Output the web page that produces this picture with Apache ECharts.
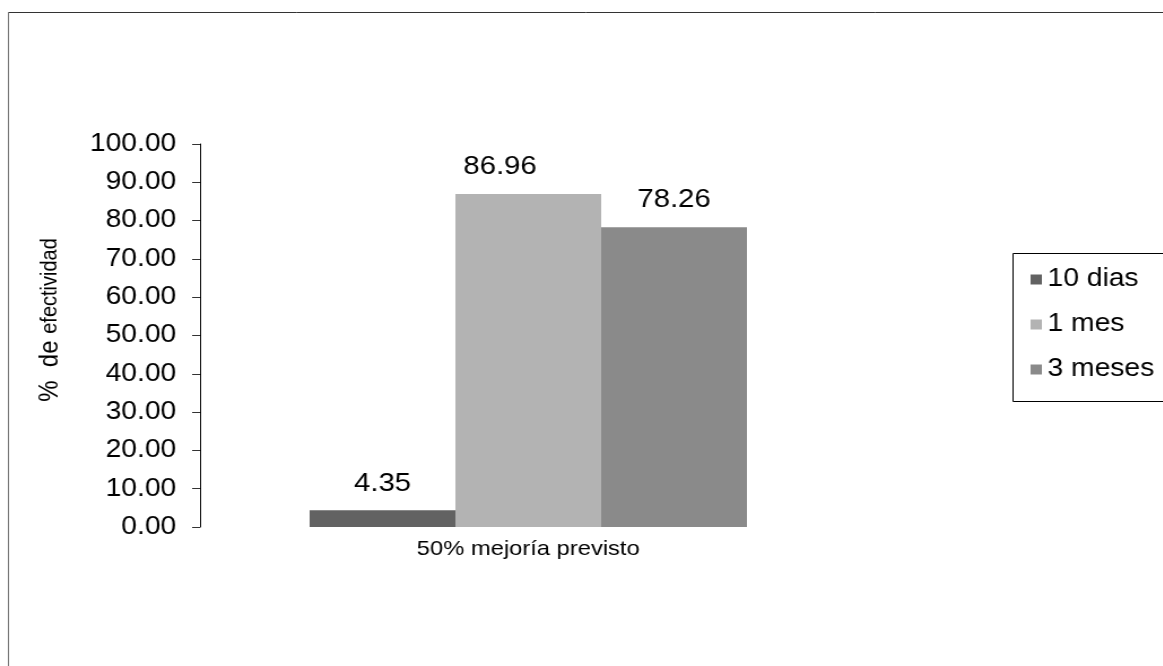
<!DOCTYPE html>
<html>
<head>
<meta charset="utf-8">
<title>Efectividad</title>
<script src="https://cdn.jsdelivr.net/npm/echarts@6/dist/echarts.min.js"></script>
<style>
  html, body { margin: 0; padding: 0; background: #fff; overflow: hidden; }
  /* The chart is laid out on a narrower canvas and widened horizontally,
     which gives the broad Arial lettering of the original office chart. */
  #chart { width: 1030px; height: 666px; transform: scaleX(1.13); transform-origin: 0 0; }
</style>
</head>
<body>
<div id="chart"></div>
<script>
// Category and series data
const categories = ['50% mejoría previsto'];
const seriesNames = ['10 dias', '1 mes', '3 meses'];
const values10dias = [4.35];
const values1mes = [86.96];
const values3meses = [78.26];
const seriesColors = ['#626262', '#b3b3b3', '#8a8a8a'];
const yTicks = { min: 0, max: 100, interval: 10 };

const FONT = '"Liberation Sans", Arial, sans-serif';
const chart = echarts.init(document.getElementById('chart'), null, { renderer: 'canvas' });

const valueSets = [values10dias, values1mes, values3meses];
// the "1 mes" value label sits a little left of its bar
const labelOffsets = [[0, 0], [-25, 0], [0, 0]];

const series = seriesNames.map((name, i) => ({
  name,
  type: 'bar',
  data: valueSets[i],
  barWidth: 129,
  barGap: '0%',
  itemStyle: { color: seriesColors[i] },
  label: {
    show: true,
    position: 'top',
    distance: 14,
    offset: labelOffsets[i],
    color: '#000',
    fontFamily: FONT,
    fontSize: 26,
    formatter: p => p.value.toFixed(2)
  }
}));

chart.setOption({
  animation: false,
  backgroundColor: '#fff',
  grid: { left: 177, top: 144, width: 581, bottom: 139, containLabel: false },
  xAxis: {
    type: 'category',
    data: categories,
    axisLine: { show: false },
    axisTick: { show: false },
    axisLabel: { color: '#000', fontFamily: FONT, fontSize: 21, margin: 12 }
  },
  yAxis: {
    type: 'value',
    min: yTicks.min,
    max: yTicks.max,
    interval: yTicks.interval,
    axisLine: { show: true, lineStyle: { color: '#000', width: 1 } },
    axisTick: { show: true, length: 7, lineStyle: { color: '#333' } },
    splitLine: { show: false },
    axisLabel: {
      color: '#000', fontFamily: FONT, fontSize: 25, margin: 21,
      formatter: v => v.toFixed(2)
    }
  },
  legend: {
    orient: 'vertical',
    left: 912,
    top: 267,
    padding: 0,
    icon: 'rect',
    itemWidth: 10,
    itemHeight: 10,
    itemGap: 20,
    data: seriesNames,
    textStyle: { color: '#000', fontFamily: FONT, fontSize: 25 }
  },
  graphic: [
    { type: 'line', shape: { x1: 7, y1: 12.5, x2: 1030, y2: 12.5 }, style: { stroke: '#333', lineWidth: 1 } },
    { type: 'line', shape: { x1: 7.5, y1: 12, x2: 7.5, y2: 666 }, style: { stroke: '#777', lineWidth: 1 } },
    { type: 'rect', shape: { x: 896.5, y: 253.5, width: 300, height: 148 }, style: { fill: 'none', stroke: '#000', lineWidth: 1 }, z: -1 },
    {
      type: 'text',
      x: 44,
      y: 320,
      rotation: Math.PI / 2,
      style: {
        text: '{a|%  de }{b|efectividad}',
        align: 'center',
        verticalAlign: 'middle',
        fill: '#000',
        rich: {
          a: { fontFamily: FONT, fontSize: 24, fill: '#000' },
          b: { fontFamily: FONT, fontSize: 20, fill: '#000' }
        }
      }
    }
  ],
  series
});
</script>
</body>
</html>
